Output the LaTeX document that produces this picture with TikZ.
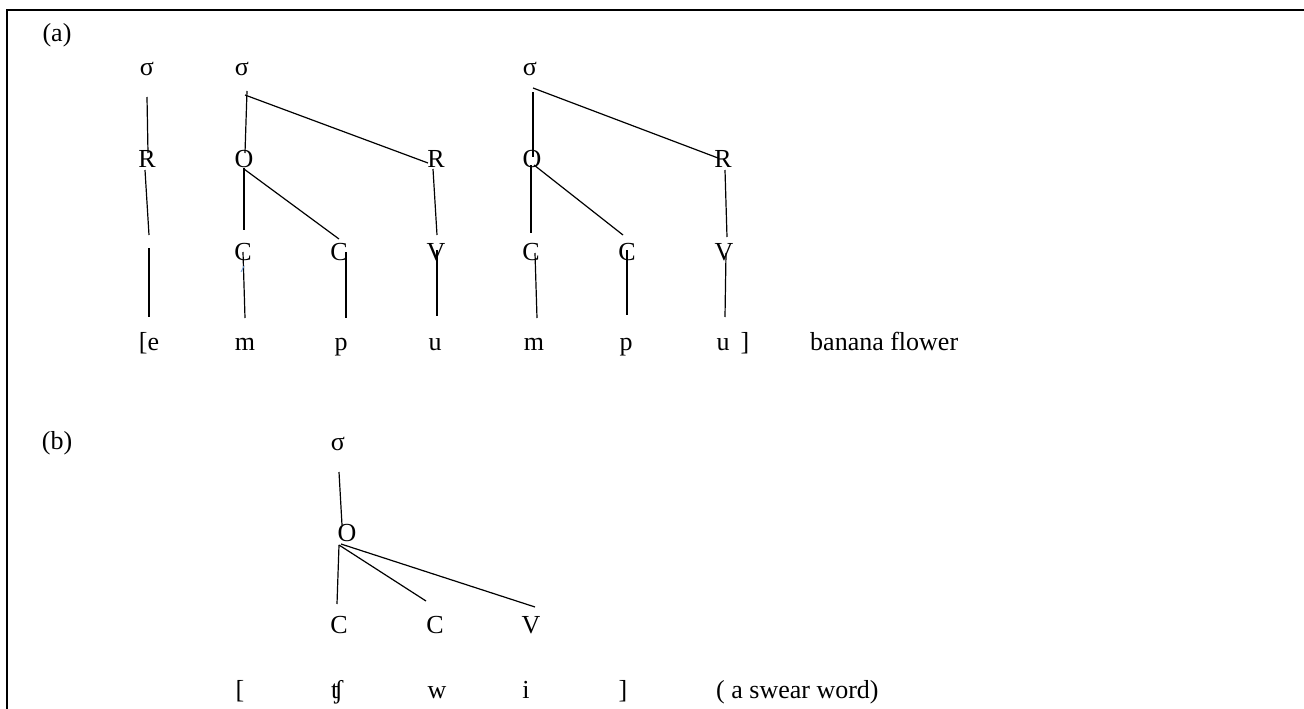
\documentclass[tikz,border=0pt]{standalone}
\usepackage{fontspec}
\setmainfont{Liberation Serif}
\usetikzlibrary{calc}
\tikzset{
  lbl/.style={inner sep=0pt, anchor=base, font=\fontsize{26}{30}\selectfont},
  lblw/.style={lbl, anchor=base west},
  edge/.style={line width=1.2pt, black},
  frame/.style={line width=2.5pt, black}
}
\begin{document}
\begin{tikzpicture}[x=1pt,y=-1pt]
\useasboundingbox (0,0) rectangle (1304,709);
% frame
\draw[frame] (7,709) -- (7,10) -- (1304,10);
% labels
\node[lbl] (la) at (57,42) {(a)};
\node[lbl] (lb) at (57,449) {(b)};
% (a) tree nodes
\node[lbl] (s1) at (147,75) {σ};
\node[lbl] (s2) at (242,75) {σ};
\node[lbl] (s3) at (530,75) {σ};
\node[lbl] (R1) at (147,167) {R};
\node[lbl] (O1) at (244,167) {O};
\node[lbl] (R2) at (436,167) {R};
\node[lbl] (O2) at (532,167) {O};
\node[lbl] (R3) at (723,167) {R};
\node[lbl] (C1) at (243,260) {C};
\node[lbl] (C2) at (339,260) {C};
\node[lbl] (V1) at (436,260) {V};
\node[lbl] (C3) at (531,260) {C};
\node[lbl] (C4) at (627,260) {C};
\node[lbl] (V2) at (724,260) {V};
\node[lbl] (e1) at (149,350) {[e};
\node[lbl] (m1) at (245,350) {m};
\node[lbl] (p1) at (341,350) {p};
\node[lbl] (u1) at (435,350) {u};
\node[lbl] (m2) at (534,350) {m};
\node[lbl] (p2) at (626,350) {p};
\node[lbl] (u2) at (723,350) {u};
\node[lbl] (rb1) at (745,350) {]};
\node[lblw] (gloss1) at (810,350) {banana flower};
\coordinate (g1) at (149,235);
\coordinate (g2) at (149,248);
% (a) edges
\draw[edge] ($(s1.base)+(0,22)$) -- ($(R1.base)+(1,-14)$);
\draw[edge] ($(s2.base)+(5,16)$) -- ($(O1.base)+(1,-14)$);
\draw[edge] ($(s2.base)+(3,20)$) -- ($(R2.base)+(-8,-4)$);
\draw[edge] ($(R1.base)+(-2,3)$) -- (g1);
\draw[edge] (g2) -- ($(e1.base)+(0,-33)$);
\draw[edge] ($(O1.base)+(0,1)$) -- ($(C1.base)+(1,-30)$);
\draw[edge] ($(O1.base)+(0,2)$) -- ($(C2.base)+(0,-21)$);
\draw[edge] ($(R2.base)+(-3,2)$) -- ($(V1.base)+(1,-25)$);
\draw[edge] ($(C1.base)+(0,-8)$) -- ($(m1.base)+(0,-32)$);
\draw[edge] ($(C2.base)+(7,-8)$) -- ($(p1.base)+(5,-32)$);
\draw[edge] ($(V1.base)+(1,-10)$) -- ($(u1.base)+(2,-34)$);
\draw[edge] ($(s3.base)+(3,17)$) -- ($(O2.base)+(1,-10)$);
\draw[edge] ($(s3.base)+(3,13)$) -- ($(R3.base)+(-5,-9)$);
\draw[edge] ($(O2.base)+(-1,-2)$) -- ($(C3.base)+(0,-27)$);
\draw[edge] ($(O2.base)+(2,-2)$) -- ($(C4.base)+(-4,-25)$);
\draw[edge] ($(R3.base)+(2,3)$) -- ($(V2.base)+(3,-23)$);
\draw[edge] ($(C3.base)+(4,-7)$) -- ($(m2.base)+(3,-32)$);
\draw[edge] ($(C4.base)+(0,-10)$) -- ($(p2.base)+(1,-35)$);
\draw[edge] ($(V2.base)+(2,-7)$) -- ($(u2.base)+(2,-33)$);
\draw[line width=0.8pt, color={rgb,255:red,110;green,160;blue,220}] ($(C1.base)+(-2,12)$) -- ($(C1.base)+(1,6)$);
% (b) tree
\node[lbl] (sb) at (338,450) {σ};
\node[lbl] (Ob) at (347,541) {O};
\node[lbl] (Cb1) at (339,633) {C};
\node[lbl] (Cb2) at (435,633) {C};
\node[lbl] (Vb) at (531,633) {V};
\node[lbl] (lbr) at (240,698) {[};
\node[lbl] (ch) at (337,698) {ʧ};
\node[lbl] (wb) at (437,698) {w};
\node[lbl] (ib) at (526,698) {i};
\node[lbl] (rbr) at (623,698) {]};
\node[lblw] (gloss2) at (716,698) {( a swear word)};
\draw[edge] ($(sb.base)+(1,22)$) -- ($(Ob.base)+(-5,-16)$);
\draw[edge] ($(Ob.base)+(-8,4)$) -- ($(Cb1.base)+(-2,-29)$);
\draw[edge] ($(Ob.base)+(-8,4)$) -- ($(Cb2.base)+(-9,-32)$);
\draw[edge] ($(Ob.base)+(-6,3)$) -- ($(Vb.base)+(4,-26)$);
\end{tikzpicture}
\end{document}
